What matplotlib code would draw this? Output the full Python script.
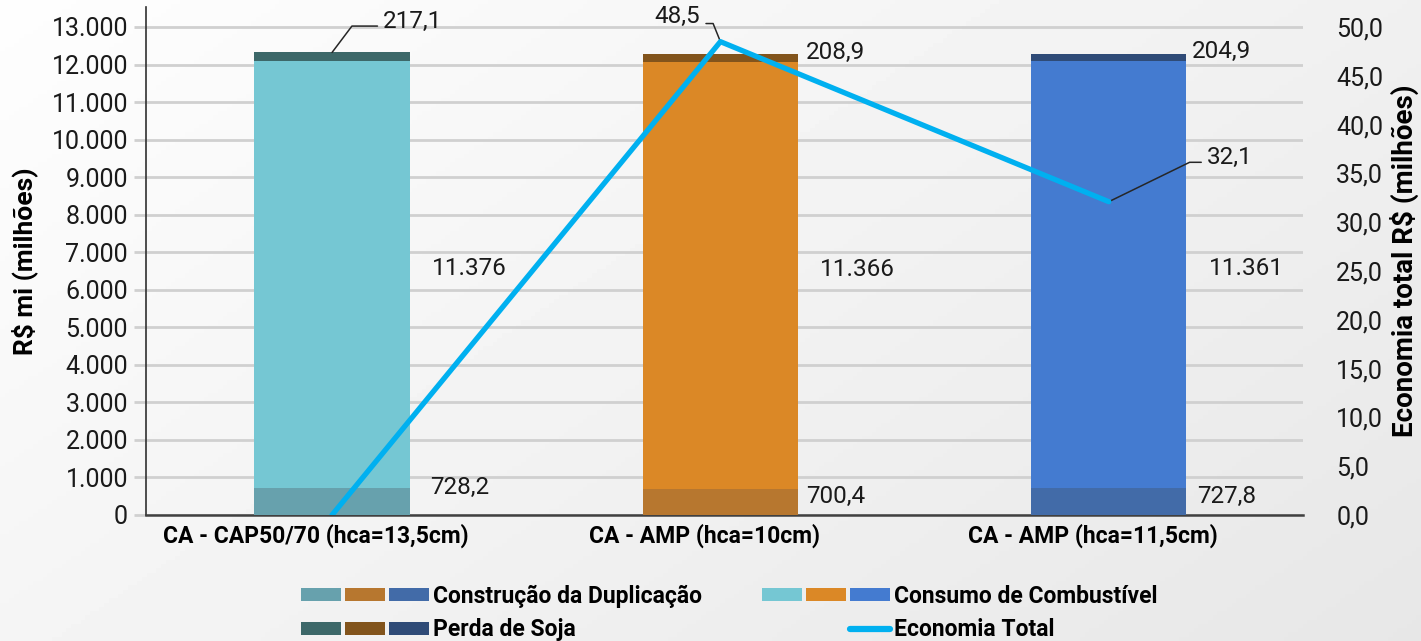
import numpy as np
import matplotlib
matplotlib.use("Agg")
import matplotlib.pyplot as plt
import matplotlib.transforms as mtrans
from matplotlib.patches import Patch
from matplotlib.lines import Line2D
from matplotlib.legend_handler import HandlerTuple

plt.rcParams['font.family'] = ['Roboto', 'DejaVu Sans']

# data
categories = ['CA - CAP50/70 (hca=13,5cm)', 'CA - AMP (hca=10cm)', 'CA - AMP (hca=11,5cm)']
construcao = [728.2, 700.4, 727.8]
consumo = [11376, 11366, 11361]
perda = [217.1, 208.9, 204.9]
economia = [0.0, 48.5, 32.1]

col_construcao = ['#67a1ad', '#b7772f', '#426ba8']
col_consumo = ['#75c7d3', '#db8826', '#447bd0']
col_perda = ['#3d6869', '#82541c', '#2f4b77']
col_linha = '#00b0f0'

def fmt_mil(v):
    return f'{v:,.0f}'.replace(',', '.')

def fmt_dec(v):
    return f'{v:.1f}'.replace('.', ',')

W, H = 1421, 641
fig = plt.figure(figsize=(W / 100, H / 100), dpi=100)

# gradient background
bg = fig.add_axes([0, 0, 1, 1], zorder=-10)
gx, gy = np.meshgrid(np.linspace(0, 1, 300), np.linspace(0, 1, 150))
grad = 0.995 - 0.09 * (0.6 * gx + 0.4 * gy)
bg.imshow(grad, cmap='gray', vmin=0, vmax=1, aspect='auto', extent=[0, 1, 0, 1])
bg.axis('off')

left, right, bottom, top = 146, 1303, 515, 7
ax = fig.add_axes([left / W, 1 - bottom / H, (right - left) / W, (bottom - top) / H])
ax.patch.set_visible(False)

x = np.arange(len(categories))
bw = 0.4
c = np.array(construcao)
s = np.array(consumo)
p = np.array(perda)
ax.bar(x, c, bw, color=col_construcao, zorder=3)
ax.bar(x, s, bw, bottom=c, color=col_consumo, zorder=3)
ax.bar(x, p, bw, bottom=c + s, color=col_perda, zorder=3)

ymax = 13000 * (bottom - top) / 488
ax.set_ylim(0, ymax)
ax.set_xlim(-0.479, 2.5)
ax.set_yticks(np.arange(0, 13001, 1000))
ax.set_yticklabels([fmt_mil(v) for v in np.arange(0, 13001, 1000)])
ax.grid(axis='y', color='#d0d0d0', lw=2, zorder=0)
ax.tick_params(axis='y', length=9, color='#d0d0d0', width=2, labelsize=18, pad=4, labelcolor='#1a1a1a')
ax.set_xticks(x)
ax.set_xticklabels(categories, fontsize=16.5, fontweight='bold')
ax.tick_params(axis='x', length=0, pad=6)
shift = mtrans.ScaledTranslation(-16 / 100, 0, fig.dpi_scale_trans)
for t in ax.get_xticklabels():
    t.set_transform(t.get_transform() + shift)
for sp in ['top', 'right']:
    ax.spines[sp].set_visible(False)
ax.spines['left'].set_color('#303030')
ax.spines['left'].set_linewidth(1.2)
ax.spines['left'].set_bounds(0, ymax)
ax.spines['bottom'].set_color('#404040')
ax.spines['bottom'].set_linewidth(1.8)
ax.set_ylabel('R$ mi (milhões)', fontsize=19, fontweight='bold', labelpad=10)

ax2 = ax.twinx()
ax2.set_ylim(0, ymax * 50 / 13000)
ax2.set_yticks(np.arange(0, 51, 5))
ax2.set_yticklabels([fmt_dec(v) for v in np.arange(0, 51, 5)])
ax2.tick_params(axis='y', length=0, labelsize=18, pad=24, labelcolor='#1a1a1a')
for sp in ax2.spines.values():
    sp.set_visible(False)
ax2.set_ylabel('Economia total R$ (milhões)', fontsize=20, fontweight='bold', labelpad=5)
ax2.plot(x, economia, color=col_linha, lw=3.8, solid_capstyle='round', zorder=5)

lab = dict(fontsize=17.5, color='#1a1a1a', textcoords='offset pixels', va='center')
lead = dict(arrowstyle='-', color='#262626', lw=1.1, shrinkA=2, shrinkB=0)

# labels on the bars
off_construcao = [(98, 14), (86, 5), (88, 5)]
for i in range(len(categories)):
    ax.annotate(fmt_dec(construcao[i]), xy=(i, construcao[i] / 2), xytext=off_construcao[i], ha='left', **lab)
    ax.annotate(fmt_mil(consumo[i]), xy=(i, construcao[i] + consumo[i] / 2), xytext=(100, 6), ha='left', **lab)

tot = c + s + p
ax.annotate(fmt_dec(perda[0]), xy=(0, tot[0]), xytext=(51, 31), ha='left',
            arrowprops=dict(relpos=(0, 0.3), connectionstyle='angle,angleA=0,angleB=53,rad=0', **lead), **lab)
ax.annotate(fmt_dec(perda[1]), xy=(1, tot[1]), xytext=(85, 2), ha='left', **lab)
ax.annotate(fmt_dec(perda[2]), xy=(2, tot[2]), xytext=(83, 2), ha='left', **lab)

ax2.annotate(fmt_dec(economia[1]), xy=(1, economia[1]), xytext=(-20, 25), ha='right',
             arrowprops=dict(relpos=(1, 0.2), connectionstyle='angle,angleA=0,angleB=112,rad=0', **lead), **lab)
ax2.annotate(fmt_dec(economia[2]), xy=(2, economia[2]), xytext=(98, 44), ha='left',
             arrowprops=dict(relpos=(0, 0.3), connectionstyle='angle,angleA=0,angleB=26,rad=0', **lead), **lab)

# legend
h_con = tuple(Patch(facecolor=cc) for cc in col_construcao)
h_cons = tuple(Patch(facecolor=cc) for cc in col_consumo)
h_perda = tuple(Patch(facecolor=cc) for cc in col_perda)
h_eco = (Patch(facecolor='none', edgecolor='none'), Patch(facecolor='none', edgecolor='none'),
         Line2D([], [], color=col_linha, lw=4.5, solid_capstyle='round'))
fig.legend([h_con, h_perda, h_cons, h_eco],
           ['Construção da Duplicação', 'Perda de Soja', 'Consumo de Combustível', 'Economia Total'],
           handler_map={tuple: HandlerTuple(ndivide=None, pad=0.18)},
           ncol=2, loc='center', bbox_to_anchor=(729 / W, 1 - 613 / H), frameon=False,
           prop={'size': 16.5, 'weight': 'bold'}, handlelength=5.6, handleheight=0.5,
           handletextpad=0.18, columnspacing=2.6, labelspacing=0.45)

fig.savefig('out.png', dpi=100)
